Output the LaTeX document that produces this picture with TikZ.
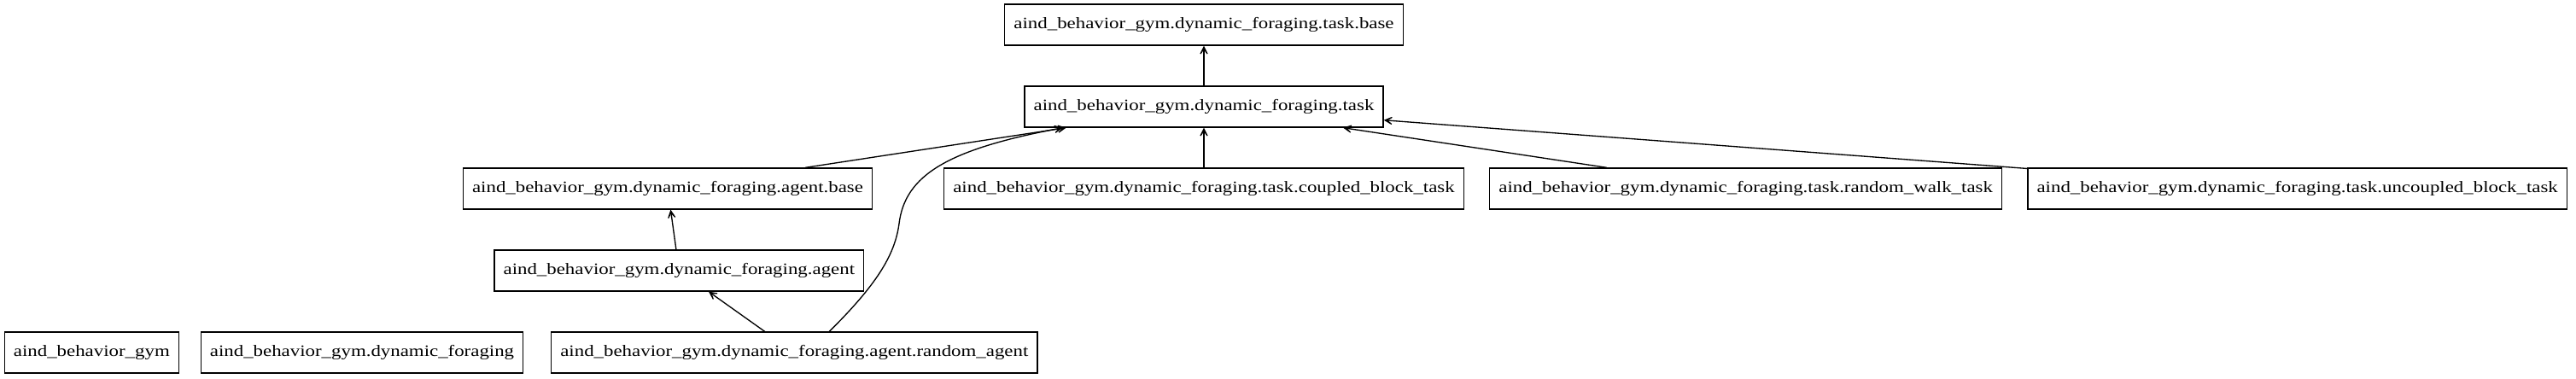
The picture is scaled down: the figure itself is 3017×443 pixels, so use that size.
\documentclass[tikz,border=0pt]{standalone}
\usepackage{fontspec}
\setmainfont{Liberation Serif}[FakeStretch=1.225]
\usepackage{xcolor}
\usepackage{tikz}
\usetikzlibrary{arrows.meta}

\begin{document}
\begin{tikzpicture}[
    x=0.75pt, y=-0.75pt,
    node distance=72pt,
    box/.style={rectangle, draw=black, line width=1pt, minimum height=36pt, inner xsep=8pt, inner ysep=0pt, align=center, font=\fontsize{14pt}{16pt}\selectfont},
    arrow/.style={-{Stealth[length=12pt, width=12pt, inset=8.5pt]}, line width=1pt, black}
]
\useasboundingbox (0,0) rectangle (3017,443);

% Nodes
\node[box] (taskbase) at (1410,29) {aind\_behavior\_gym.dynamic\_foraging.task.base};
\node[box, below of=taskbase] (task) {aind\_behavior\_gym.dynamic\_foraging.task};
\node[box, below of=task, xshift=-471pt] (agentbase) {aind\_behavior\_gym.dynamic\_foraging.agent.base};
\node[box, below of=task] (coupled) {aind\_behavior\_gym.dynamic\_foraging.task.coupled\_block\_task};
\node[box, below of=task, xshift=476pt] (randomwalk) {aind\_behavior\_gym.dynamic\_foraging.task.random\_walk\_task};
\node[box, below of=task, xshift=960.5pt] (uncoupled) {aind\_behavior\_gym.dynamic\_foraging.task.uncoupled\_block\_task};
\node[box, below of=agentbase, xshift=10pt] (agent) {aind\_behavior\_gym.dynamic\_foraging.agent};
\node[box, below of=agent, xshift=101.25pt] (randomagent) {aind\_behavior\_gym.dynamic\_foraging.agent.random\_agent};
\node[box, below of=agent, xshift=-278.5pt] (foraging) {aind\_behavior\_gym.dynamic\_foraging};
\node[box, below of=agent, xshift=-516pt] (gym) {aind\_behavior\_gym};

% Arrows
\draw[arrow] (task) -- (taskbase);
\draw[arrow] (coupled) -- (task);
\draw[arrow] (randomwalk) -- (task);
\draw[arrow] (uncoupled) -- (task);
\draw[arrow] (agentbase) -- (task);
\draw[arrow] (agent) -- (agentbase);
\draw[arrow] (randomagent) -- (agent);
\draw[arrow] ([xshift=30.75pt]randomagent.north) .. controls (1025,335) and (1048,300) .. (1053,262)
    .. controls (1060,205) and (1110,175) .. ([xshift=-124pt]task.south);

\end{tikzpicture}
\end{document}
